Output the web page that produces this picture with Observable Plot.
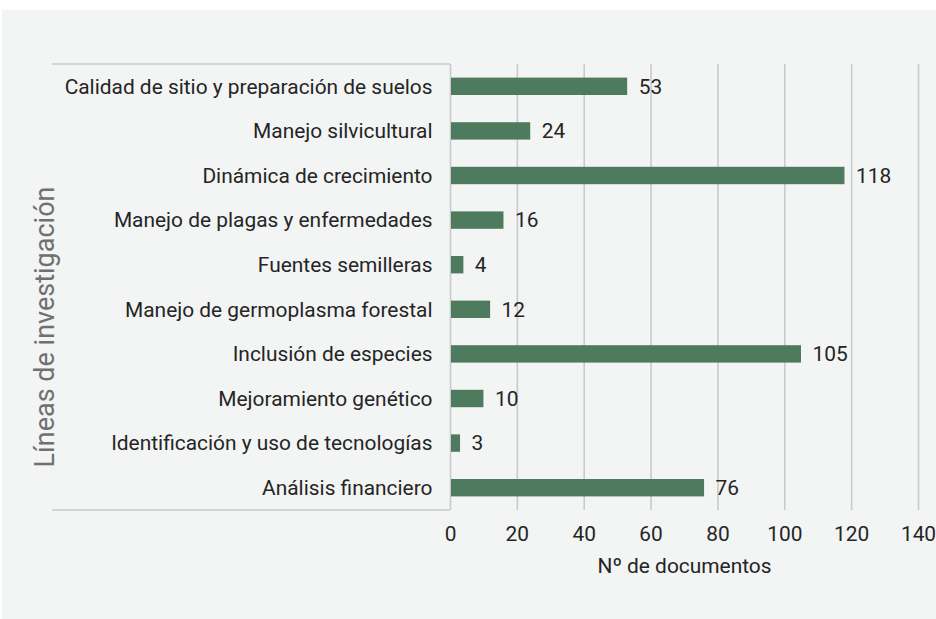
<!DOCTYPE html>
<html>
<head>
<meta charset="utf-8">
<script src="https://cdn.jsdelivr.net/npm/d3@7"></script>
<script src="https://cdn.jsdelivr.net/npm/@observablehq/plot@0.6"></script>
<style>
  html, body { margin: 0; padding: 0; background: #ffffff; }
  #chart { position: absolute; left: 2px; top: 10px; }
  #chart svg { background: #f3f4f4; display: block; }
</style>
</head>
<body>
<div id="chart"></div>
<script>
const categories = [
  "Calidad de sitio y preparación de suelos",
  "Manejo silvicultural",
  "Dinámica de crecimiento",
  "Manejo de plagas y enfermedades",
  "Fuentes semilleras",
  "Manejo de germoplasma forestal",
  "Inclusión de especies",
  "Mejoramiento genético",
  "Identificación y uso de tecnologías",
  "Análisis financiero"
];
const values = [53, 24, 118, 16, 4, 12, 105, 10, 3, 76];
const xTicks = [0, 20, 40, 60, 80, 100, 120, 140];
const xTitle = "Nº de documentos";
const yTitle = "Líneas de investigación";

const data = categories.map((c, i) => ({category: c, value: values[i]}));

const W = 934, H = 609;
const mL = 448, mR = 18, mT = 54, mB = 109;
const gridColor = "#c9cacb";
const textColor = "#252525";
const fs = 20.9;

const chart = Plot.plot({
  width: W,
  height: H,
  marginLeft: mL,
  marginRight: mR,
  marginTop: mT,
  marginBottom: mB,
  style: {fontFamily: "Roboto, sans-serif", fontSize: fs + "px", color: textColor, background: "#f3f4f4"},
  x: {domain: [0, 140], ticks: xTicks, label: null},
  y: {domain: categories, padding: 0, round: false, label: null},
  marks: [
    Plot.ruleX(xTicks, {stroke: gridColor, strokeWidth: 1.6, strokeOpacity: 1}),
    Plot.axisX({ticks: xTicks, tickSize: 0, tickPadding: 16, label: null, fontSize: fs, fill: textColor}),
    Plot.axisY({tickSize: 0, tickPadding: 18, label: null, fontSize: fs, fill: textColor}),
    Plot.barX(data, {x: "value", y: "category", fill: "#4e7b5e", insetTop: 13.6, insetBottom: 13.6, insetLeft: 1}),
    Plot.text(data, {x: "value", y: "category", text: d => String(d.value), textAnchor: "start", dx: 11, fontSize: fs, fill: textColor}),
    Plot.text([xTitle], {frameAnchor: "bottom", dy: 56, lineAnchor: "middle", fontSize: fs, fill: textColor})
  ]
});

const yr = chart.scale("y").range;
const svg = d3.select(chart);
// horizontal box lines extending into the left margin at the band extent
[yr[0], yr[1]].forEach(yy => {
  svg.append("line")
    .attr("x1", mL - 398).attr("x2", mL)
    .attr("y1", yy).attr("y2", yy)
    .attr("stroke", gridColor).attr("stroke-width", 1.6);
});
// rotated y-axis title
const cy = (yr[0] + yr[1]) / 2 + 40;
svg.append("text")
  .attr("transform", `translate(${mL - 405},${cy}) rotate(-90)`)
  .attr("text-anchor", "middle")
  .attr("dominant-baseline", "central")
  .attr("font-family", "Roboto, sans-serif")
  .attr("font-size", 27)
  .attr("fill", "#707070")
  .text(yTitle);

document.getElementById("chart").append(chart);
</script>
</body>
</html>
